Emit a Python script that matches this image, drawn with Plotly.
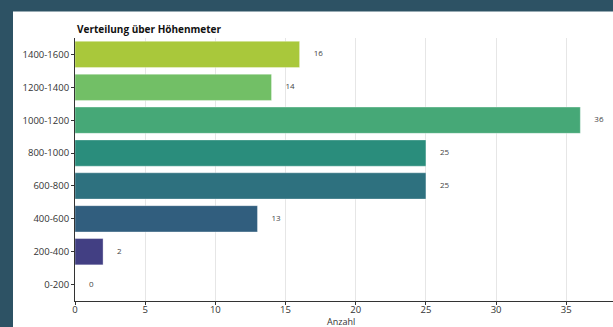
import plotly.graph_objects as go

categories = ["0-200", "200-400", "400-600", "600-800", "800-1000", "1000-1200", "1200-1400", "1400-1600"]
counts = [0, 2, 13, 25, 25, 36, 14, 16]
bar_colors = ["#46206f", "#423f83", "#315e7e", "#2e717f", "#2a8d7c", "#46a877", "#72bf66", "#a9c83b"]
x_ticks = [0, 5, 10, 15, 20, 25, 30, 35]

title_text = "Verteilung über Höhenmeter"
x_title = "Anzahl"

FONT = "Open Sans"

fig = go.Figure()
fig.add_trace(go.Bar(
    y=categories, x=counts, orientation="h",
    marker=dict(color=bar_colors, line=dict(color="rgba(255,255,255,0.35)", width=1)),
    width=0.8, showlegend=False, hoverinfo="skip",
))
fig.add_trace(go.Scatter(
    y=categories, x=[c + 1.0 for c in counts], mode="text",
    text=[str(c) for c in counts], textposition="middle right",
    textfont=dict(family=FONT, size=8, color="#444444"),
    showlegend=False, hoverinfo="skip", cliponaxis=False,
))

W, H = 613, 327
L, R, T, B = 75, 0, 37.5, 25.5
pw, ph = W - L - R, H - T - B

def px_x(p):
    return (p - L) / pw

def px_y(p):
    return (H - B - p) / ph

fig.add_shape(type="rect", xref="paper", yref="paper",
              x0=px_x(13), x1=px_x(W + 5), y0=px_y(H + 5), y1=px_y(11),
              fillcolor="white", line=dict(width=0), layer="below")

fig.add_annotation(text="<b>" + title_text + "</b>", xref="paper", yref="paper",
                   x=px_x(75), y=px_y(28.5), xanchor="left", yanchor="middle",
                   showarrow=False, font=dict(family=FONT, size=10, color="#111111"))
fig.add_annotation(text=x_title, xref="paper", yref="paper",
                   x=px_x(340.5), y=px_y(322.5), xanchor="center", yanchor="middle",
                   showarrow=False, font=dict(family=FONT, size=9, color="#333333"))

fig.update_layout(
    width=W, height=H,
    margin=dict(l=L, r=R, t=T, b=B, pad=0, autoexpand=False),
    paper_bgcolor="#2d5264",
    plot_bgcolor="rgba(0,0,0,0)",
    bargap=0.2,
    xaxis=dict(range=[0, pw / 14.037], tickvals=x_ticks, ticktext=[str(v) for v in x_ticks],
               showgrid=True, gridcolor="#e6e6e6", gridwidth=1, zeroline=False,
               showline=True, linecolor="#333333", linewidth=1,
               ticks="outside", ticklen=3, tickcolor="#333333", automargin=False,
               ticklabelstandoff=-3,
               tickfont=dict(family=FONT, size=9.5, color="#333333"), fixedrange=True),
    yaxis=dict(categoryorder="array", categoryarray=categories, range=[-0.5, 7.5],
               showgrid=False, zeroline=False, automargin=False,
               showline=True, linecolor="#333333", linewidth=1,
               ticks="outside", ticklen=3, tickcolor="#333333",
               tickfont=dict(family=FONT, size=9.5, color="#333333"), fixedrange=True),
)

fig.write_html("out.html", config={"displayModeBar": False},
               post_script="document.body.style.margin='0';document.body.style.overflow='hidden';")
